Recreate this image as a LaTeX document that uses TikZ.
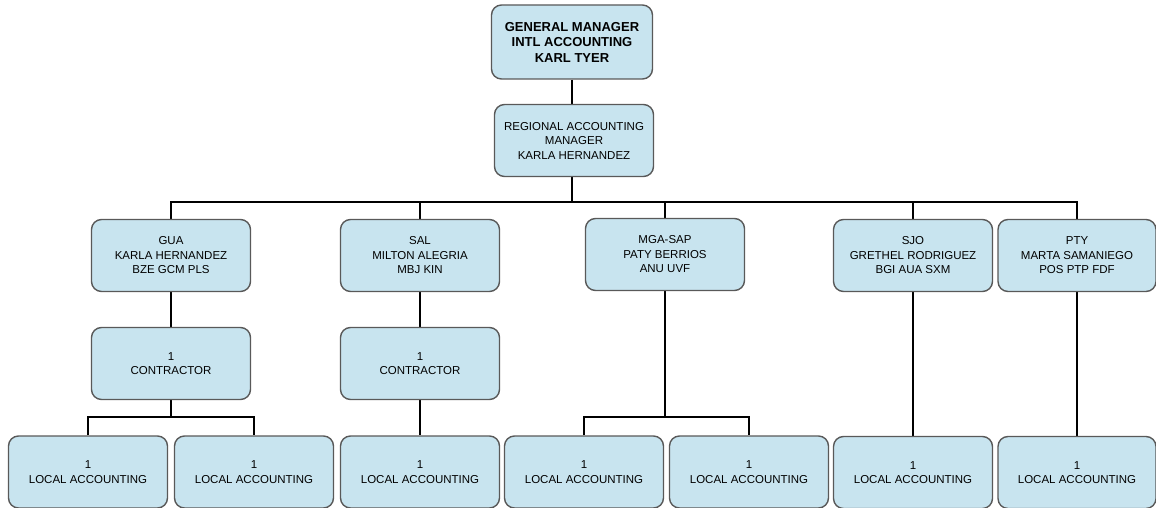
\documentclass[tikz,border=0pt]{standalone}
\usepackage{fontspec}
\setmainfont{Liberation Sans}
\usetikzlibrary{positioning,backgrounds}
\definecolor{boxfill}{HTML}{C8E4EF}
\definecolor{boxline}{HTML}{595959}
\tikzset{
  orgbox/.style={
    rectangle, rounded corners=10pt, draw=boxline, fill=boxfill,
    line width=1.4pt, minimum width=#1, minimum height=72pt,
    font=\fontsize{11.5}{14.5}\selectfont, align=center,
    inner sep=2pt
  },
  orgbox/.default=159pt,
  headbox/.style={
    orgbox=161pt, minimum height=74pt,
    font=\fontsize{13}{15.5}\selectfont\bfseries
  },
  orgline/.style={
    draw=black, line width=2pt
  },
}

\begin{document}
\begin{tikzpicture}[x=1pt,y=-1pt]
\useasboundingbox (0,0) rectangle (1156,508);

% Management
\node[headbox] (gm) at (572,42) {GENERAL MANAGER\\INTL ACCOUNTING\\KARL TYER};
\node[orgbox] (ram) at (574,140.5) {REGIONAL ACCOUNTING\\MANAGER\\KARLA HERNANDEZ};

% Countries
\node[orgbox] (gua) at (171,255.5) {GUA\\KARLA HERNANDEZ\\BZE GCM PLS};
\node[orgbox] (sal) at (420,255.5) {SAL\\MILTON ALEGRIA\\MBJ KIN};
\node[orgbox] (mga) at (665,254.5) {MGA-SAP\\PATY BERRIOS\\ANU UVF};
\node[orgbox] (sjo) at (913,255.5) {SJO\\GRETHEL RODRIGUEZ\\BGI AUA SXM};
\node[orgbox, minimum width=158pt] (pty) at (1077,255.5) {PTY\\MARTA SAMANIEGO\\POS PTP FDF};

% Contractors
\node[orgbox] (gua-con) at (171,363.5) {1\\CONTRACTOR};
\node[orgbox] (sal-con) at (420,363.5) {1\\CONTRACTOR};

% Local accounting
\node[orgbox] (gua-loc1) at (88,472) {1\\LOCAL ACCOUNTING};
\node[orgbox] (gua-loc2) at (254,472) {1\\LOCAL ACCOUNTING};
\node[orgbox] (sal-loc) at (420,472) {1\\LOCAL ACCOUNTING};
\node[orgbox] (mga-loc1) at (584,472) {1\\LOCAL ACCOUNTING};
\node[orgbox] (mga-loc2) at (749,472) {1\\LOCAL ACCOUNTING};
\node[orgbox] (sjo-loc) at (913,472.5) {1\\LOCAL ACCOUNTING};
\node[orgbox, minimum width=158pt] (pty-loc) at (1077,472.5) {1\\LOCAL ACCOUNTING};

% Connectors
\coordinate (top-bus) at (572,202);
\coordinate (gua-bus) at (171,417);
\coordinate (mga-bus) at (665,417);
\begin{scope}[on background layer]
  \draw[orgline] (gm.south -| top-bus) -- (ram.north -| top-bus);
  \draw[orgline] (ram.south -| top-bus) -- (top-bus);
  \draw[orgline] (gua.north) |- (top-bus) -| (pty.north);
  \foreach \c in {sal,mga,sjo}
    \draw[orgline] (\c.north) -- (\c.north |- top-bus);
  % GUA branch
  \draw[orgline] (gua.south) -- (gua-con.north);
  \draw[orgline] (gua-con.south) -- (gua-bus);
  \draw[orgline] (gua-loc1.north) |- (gua-bus) -| (gua-loc2.north);
  % SAL branch
  \draw[orgline] (sal.south) -- (sal-con.north);
  \draw[orgline] (sal-con.south) -- (sal-loc.north);
  % MGA branch
  \draw[orgline] (mga.south) -- (mga-bus);
  \draw[orgline] (mga-loc1.north) |- (mga-bus) -| (mga-loc2.north);
  % SJO and PTY
  \draw[orgline] (sjo.south) -- (sjo-loc.north);
  \draw[orgline] (pty.south) -- (pty-loc.north);
\end{scope}

\end{tikzpicture}
\end{document}
